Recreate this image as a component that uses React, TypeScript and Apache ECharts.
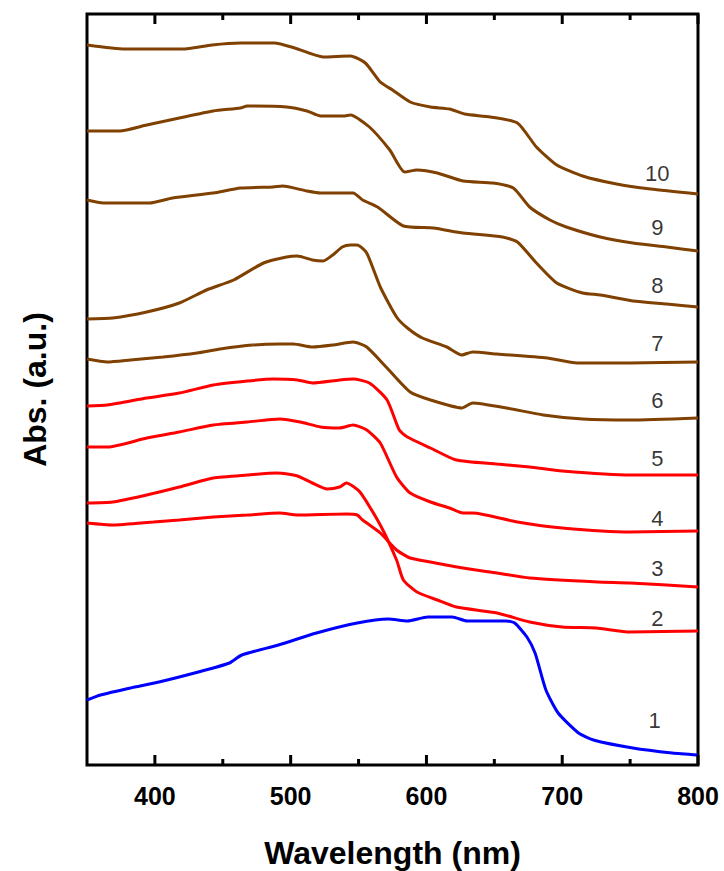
import React, { useEffect, useRef } from 'react';
import * as echarts from 'echarts';

// Wavelength axis ticks (nm)
const majorTicks = [400, 500, 600, 700, 800];
const minorTicks = [450, 550, 650, 750];

// Absorption spectra [wavelength nm, absorbance a.u.] (offset stacked)
const curve1 = [[350,0.65],[360,0.70],[382,0.77],[403,0.83],[432,0.93],[455,1.02],[464,1.10],[491,1.20],[519,1.32],[549,1.42],[572,1.46],[586,1.44],[601,1.48],[619,1.48],[630,1.44],[659,1.44],[665,1.42],[674,1.28],[680,1.12],[688,0.75],[697,0.52],[712,0.32],[723,0.25],[752,0.17],[781,0.12],[800,0.10]];
const curve2 = [[350,2.62],[369,2.63],[394,2.70],[418,2.78],[443,2.87],[468,2.90],[490,2.92],[505,2.89],[516,2.82],[527,2.76],[536,2.78],[541,2.82],[551,2.73],[566,2.40],[578,2.05],[583,1.85],[593,1.73],[608,1.65],[622,1.58],[652,1.52],[676,1.43],[700,1.38],[725,1.37],[750,1.33],[800,1.34]];
const curve3 = [[350,2.42],[369,2.40],[399,2.43],[418,2.45],[443,2.48],[468,2.50],[492,2.52],[505,2.50],[541,2.51],[549,2.50],[553,2.45],[566,2.32],[578,2.15],[588,2.07],[603,2.03],[627,1.97],[652,1.92],[676,1.87],[726,1.83],[750,1.82],[800,1.78]];
const curve4 = [[350,3.18],[365,3.18],[394,3.27],[418,3.33],[443,3.40],[468,3.43],[492,3.46],[507,3.43],[522,3.38],[536,3.37],[546,3.40],[556,3.35],[566,3.22],[578,2.88],[588,2.72],[603,2.63],[617,2.57],[627,2.52],[634,2.52],[667,2.43],[700,2.37],[750,2.33],[800,2.34]];
const curve5 = [[350,3.59],[365,3.60],[394,3.67],[418,3.72],[443,3.80],[468,3.84],[487,3.86],[505,3.85],[516,3.82],[536,3.85],[546,3.86],[558,3.82],[571,3.65],[580,3.35],[586,3.28],[603,3.17],[622,3.05],[652,3.01],[676,2.98],[700,2.94],[750,2.90],[800,2.90]];
const curve6 = [[350,4.06],[365,4.03],[382,4.05],[406,4.08],[431,4.12],[448,4.16],[472,4.20],[492,4.21],[502,4.21],[516,4.18],[531,4.20],[546,4.23],[556,4.18],[571,3.97],[588,3.73],[603,3.65],[626,3.57],[634,3.62],[659,3.57],[686,3.50],[715,3.46],[750,3.45],[800,3.47]];
const curve7 = [[350,4.46],[369,4.47],[394,4.53],[418,4.62],[438,4.75],[458,4.85],[480,5.02],[497,5.08],[505,5.09],[516,5.05],[524,5.04],[531,5.10],[538,5.18],[544,5.20],[549,5.20],[556,5.12],[566,4.78],[578,4.48],[586,4.37],[597,4.27],[615,4.18],[626,4.10],[634,4.13],[652,4.11],[689,4.07],[711,4.02],[750,4.02],[800,4.03]];
const curve8 = [[350,5.65],[362,5.62],[396,5.62],[413,5.67],[443,5.72],[463,5.77],[487,5.78],[494,5.79],[512,5.74],[522,5.72],[546,5.72],[553,5.65],[564,5.58],[583,5.39],[605,5.37],[627,5.32],[656,5.28],[667,5.23],[681,5.02],[696,4.82],[715,4.72],[728,4.70],[752,4.64],[777,4.61],[800,4.58]];
const curve9 = [[350,6.34],[374,6.34],[394,6.40],[418,6.47],[443,6.54],[463,6.57],[468,6.59],[497,6.58],[512,6.54],[522,6.49],[539,6.49],[544,6.50],[558,6.38],[573,6.15],[584,5.93],[593,5.95],[608,5.92],[627,5.84],[649,5.82],[664,5.77],[676,5.58],[691,5.45],[703,5.38],[728,5.28],[752,5.22],[777,5.18],[800,5.14]];
const curve10 = [[350,7.20],[378,7.16],[422,7.16],[442,7.20],[463,7.22],[488,7.22],[503,7.17],[524,7.08],[544,7.09],[555,7.02],[566,6.83],[575,6.75],[588,6.63],[603,6.58],[617,6.56],[628,6.51],[647,6.48],[667,6.42],[681,6.18],[696,6.00],[715,5.89],[740,5.81],[765,5.76],[800,5.71]];

const curves = [curve1, curve2, curve3, curve4, curve5, curve6, curve7, curve8, curve9, curve10];
const curveNames = ['1', '2', '3', '4', '5', '6', '7', '8', '9', '10'];
const curveColors = ['#0000ff', '#ff0000', '#ff0000', '#ff0000', '#ff0000', '#7f4000', '#7f4000', '#7f4000', '#7f4000', '#7f4000'];

// Curve number labels [wavelength, absorbance, text]
const curveLabels = [[768,0.45,'1'],[770,1.47,'2'],[770,1.97,'3'],[770,2.47,'4'],[770,3.07,'5'],[770,3.65,'6'],[770,4.22,'7'],[770,4.80,'8'],[770,5.38,'9'],[770,5.92,'10']];

const Y_MIN = 0;
const Y_MAX = 7.51;
const PLOT_H = 751; // plot height in px, used to express tick length in data units
const FONT = 'Liberation Sans, Arial, sans-serif';

export default function App() {
  const ref = useRef<HTMLDivElement>(null);
  useEffect(() => {
    if (!ref.current) return;
    const chart = echarts.init(ref.current, null, { renderer: 'svg' });
    const unit = (Y_MAX - Y_MIN) / PLOT_H;
    const tickData = (values: number[], len: number) => {
      const out: any[] = [];
      values.forEach((v) => {
        out.push([v, Y_MIN], [v, Y_MIN + len * unit], null);
        out.push([v, Y_MAX], [v, Y_MAX - len * unit], null);
      });
      return out;
    };
    const tickSeries = (values: number[], len: number) => ({
      type: 'line', data: tickData(values, len), connectNulls: false,
      showSymbol: false, symbol: 'none', silent: true, clip: false,
      lineStyle: { color: '#000', width: 3, cap: 'butt' }, z: 6,
    });
    const option: any = {
      animation: false,
      backgroundColor: '#ffffff',
      grid: {
        left: 87, right: 26, top: 14, bottom: 106, show: true, borderColor: '#000', borderWidth: 3,
        backgroundColor: 'transparent', containLabel: false, outerBoundsMode: 'none',
      },
      xAxis: {
        type: 'value', min: 350, max: 800, splitLine: { show: false },
        axisLine: { show: false }, axisTick: { show: false },
        axisLabel: { show: true, customValues: majorTicks, margin: 18, fontSize: 25, fontWeight: 'bold', color: '#000', fontFamily: FONT },
        name: 'Wavelength (nm)', nameLocation: 'middle', nameGap: 72,
        nameTextStyle: { fontSize: 32, fontWeight: 'bold', color: '#000', fontFamily: FONT },
      },
      yAxis: {
        type: 'value', min: Y_MIN, max: Y_MAX,
        axisLine: { show: false }, axisTick: { show: false }, axisLabel: { show: false }, splitLine: { show: false },
        name: 'Abs. (a.u.)', nameLocation: 'middle', nameGap: 36, nameRotate: 90,
        nameTextStyle: { fontSize: 32, fontWeight: 'bold', color: '#000', fontFamily: FONT },
      },
      series: [
        ...curves.map((c, i) => ({
          type: 'line', name: curveNames[i], data: c,
          showSymbol: false, symbol: 'none', smooth: 0.2,
          lineStyle: { color: curveColors[i], width: 3 },
          z: 3,
        })),
        tickSeries(majorTicks, 10),
        tickSeries(minorTicks, 6),
        {
          type: 'scatter', data: curveLabels, symbolSize: 0,
          label: { show: true, position: 'inside', formatter: (p: any) => p.data[2], fontSize: 22, color: '#000', fontFamily: FONT },
          z: 4,
        },
      ],
    };
    chart.setOption(option);
    return () => chart.dispose();
  }, []);
  return <div ref={ref} style={{ width: 724, height: 871, position: 'absolute', left: 0, top: 0 }} />;
}
